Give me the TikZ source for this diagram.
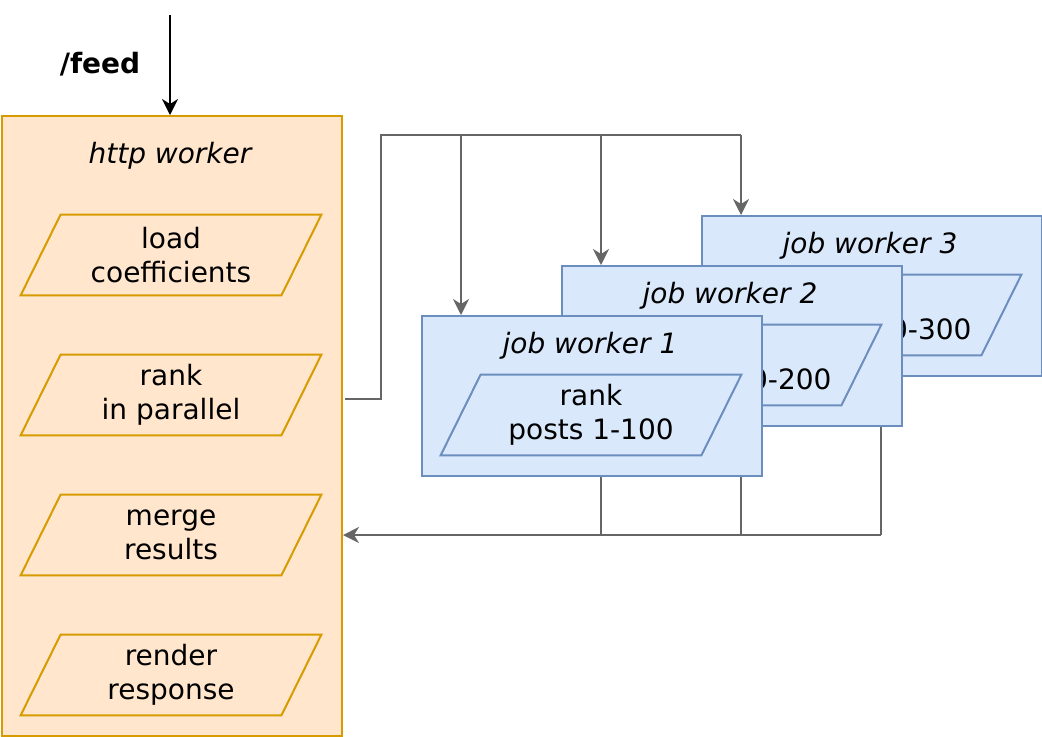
\documentclass[tikz,border=0pt]{standalone}
\usepackage{fontspec}
\setmainfont{DejaVu Sans}
\usetikzlibrary{arrows.meta,backgrounds}

\definecolor{httpfill}{HTML}{FFE6CC}
\definecolor{httpline}{HTML}{D79B00}
\definecolor{jobfill}{HTML}{DAE8FC}
\definecolor{jobline}{HTML}{6C8EBF}
\definecolor{wiregray}{HTML}{666666}

\tikzset{
	worker/.style={draw, line width=1pt, minimum width=170pt, minimum height=80pt, anchor=north west, inner sep=0pt},
	httpbox/.style={worker, fill=httpfill, draw=httpline, minimum height=310pt},
	jobbox/.style={worker, fill=jobfill, draw=jobline},
	stepio/.style={minimum width=150pt, minimum height=40pt, align=center, inner sep=0pt},
	slant/.style={line width=1pt, line join=miter},
	wtitle/.style={font=\fontsize{14pt}{17pt}\selectfont\itshape},
	link/.style={draw=wiregray, line width=1pt},
	linkarrow/.style={link, -{Stealth[length=8pt,width=8pt,inset=2.5pt]}},
}

\begin{document}
\begin{tikzpicture}[x=0.5pt, y=-0.5pt, font=\fontsize{14pt}{17pt}\selectfont]
		\useasboundingbox (0,0) rectangle (1042,736);

		% http worker
		\node[httpbox] (http) at (1,115) {};
		\node[wtitle] (httptitle) at (170,156) {http worker};
		\node[stepio] (load) at (171,255) {load\\coefficients};
		\node[stepio] (rank) at (171,395) {rank\\in parallel};
		\node[stepio] (merge) at (171,535) {merge\\results};
		\node[stepio] (render) at (171,675) {render\\response};
		\foreach \n in {load,rank,merge,render}
			\draw[slant, httpline] (\n.south west) -- ([xshift=20pt]\n.north west) -- (\n.north east) -- ([xshift=-20pt]\n.south east) -- cycle;

		\coordinate (in) at (170,15);
		\node[font=\bfseries\fontsize{14pt}{17pt}\selectfont] (feed) at (100,64) {/feed};
		\draw[black, line width=1pt, -{Stealth[length=8pt,width=8pt,inset=2.5pt]}] (in) -- (in |- http.north);

		% job workers, back to front
		\node[jobbox] (job3) at (701,215) {};
		\node[wtitle] (title3) at (870,246) {job worker 3};
		\node[stepio] (posts3) at (871,315) {rank\\posts 200-300};
		\draw[slant, jobline] (posts3.south west) -- ([xshift=20pt]posts3.north west) -- (posts3.north east) -- ([xshift=-20pt]posts3.south east) -- cycle;

		\node[jobbox] (job2) at (561,265) {};
		\node[wtitle] (title2) at (730,296) {job worker 2};
		\node[stepio] (posts2) at (731,365) {rank\\posts 100-200};
		\draw[slant, jobline] (posts2.south west) -- ([xshift=20pt]posts2.north west) -- (posts2.north east) -- ([xshift=-20pt]posts2.south east) -- cycle;

		\node[jobbox] (job1) at (421,315) {};
		\node[wtitle] (title1) at (590,346) {job worker 1};
		\node[stepio] (posts1) at (591,415) {rank\\posts 1-100};
		\draw[slant, jobline] (posts1.south west) -- ([xshift=20pt]posts1.north west) -- (posts1.north east) -- ([xshift=-20pt]posts1.south east) -- cycle;

		% fan out
		\coordinate (split) at (381,399);
		\coordinate (fork) at (381,135);
		\coordinate (top1) at (461,135);
		\coordinate (top2) at (601,135);
		\coordinate (top3) at (741,135);
		\draw[link] ([xshift=1pt]http.east |- split) -- (split) -- (fork) -- (top3);
		\draw[linkarrow] (top1) -- (top1 |- job1.north);
		\draw[linkarrow] (top2) -- (top2 |- job2.north);
		\draw[linkarrow] (top3) -- (top3 |- job3.north);

		% collect
		\coordinate (bot1) at (601,535);
		\coordinate (bot2) at (741,535);
		\coordinate (bot3) at (881,535);
		\begin{pgfonlayer}{background}
			\draw[link] (bot1 |- job1.south) -- (bot1);
			\draw[link] (bot2 |- job2.south) -- (bot2);
			\draw[link] (bot3 |- job3.south) -- (bot3);
		\end{pgfonlayer}
		\draw[linkarrow] (bot3) -- (http.east |- bot3);
	\end{tikzpicture}
\end{document}
